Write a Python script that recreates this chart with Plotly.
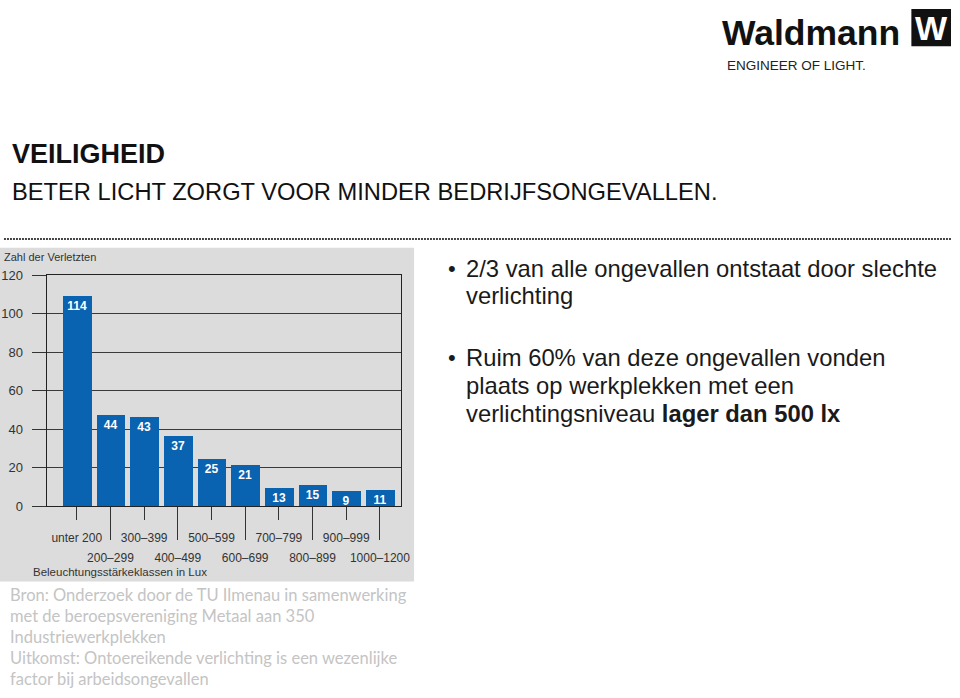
import plotly.graph_objects as go

# ---------------- data ----------------
categories = ["unter 200", "200–299", "300–399", "400–499", "500–599",
              "600–699", "700–799", "800–899", "900–999", "1000–1200"]
bar_heights = [109, 47.4, 46.4, 36.1, 24.6, 21.5, 9.5, 10.7, 7.6, 8.5]   # as drawn
bar_labels = ["114", "44", "43", "37", "25", "21", "13", "15", "9", "11"]  # as printed
y_ticks = [0, 20, 40, 60, 80, 100, 120]

title = "VEILIGHEID"
subtitle = "BETER LICHT ZORGT VOOR MINDER BEDRIJFSONGEVALLEN."
bullet_lines = [
    ["2/3 van alle ongevallen ontstaat door slechte", "verlichting"],
    ["Ruim 60% van deze ongevallen vonden", "plaats op werkplekken met een",
     "verlichtingsniveau <b>lager dan 500 lx</b>"],
]
source_lines = [
    "Bron: Onderzoek door de TU Ilmenau in samenwerking",
    "met de beroepsvereniging Metaal aan 350",
    "Industriewerkplekken",
    "Uitkomst: Ontoereikende verlichting is een wezenlijke",
    "factor bij arbeidsongevallen",
]

# ---------------- layout helpers ----------------
W, H = 960, 698
def px(x):
    return x / W
def py(y):
    return 1 - y / H

idx = list(range(len(categories)))
even = idx[0::2]
odd = idx[1::2]

BLUE = "#0a63b0"
DARK = "#2a2a2a"
FONT = "Arial, Liberation Sans, sans-serif"
LBL = 12

fig = go.Figure()
fig.add_trace(go.Bar(
    x=idx, y=bar_heights, text=bar_labels, width=0.85,
    marker=dict(color=BLUE, line=dict(width=0)),
    textposition="inside", insidetextanchor="end", textangle=0,
    textfont=dict(family=FONT, size=LBL, color="white", weight="bold"),
    hoverinfo="skip", showlegend=False,
))
fig.add_trace(go.Scatter(
    x=odd, y=[0] * len(odd), xaxis="x2", mode="markers",
    marker=dict(opacity=0), hoverinfo="skip", showlegend=False,
))

xr = [-0.897, 9.632]
common_x = dict(range=xr, showgrid=False, zeroline=False, ticks="outside",
                tickcolor="#333", tickwidth=1,
                tickfont=dict(family=FONT, size=12, color="#333"))
fig.update_layout(
    width=W, height=H,
    margin=dict(l=0, r=0, t=0, b=0),
    paper_bgcolor="white",
    plot_bgcolor="rgba(0,0,0,0)",
    bargap=0,
    uniformtext=dict(minsize=LBL, mode="show"),
    xaxis=dict(domain=[px(47), px(405)], anchor="y",
               tickvals=even, ticktext=[categories[i] for i in even],
               ticklen=13, ticklabelstandoff=7,
               showline=True, linecolor="#222", linewidth=1, mirror=True,
               **common_x),
    xaxis2=dict(domain=[px(47), px(405)], anchor="y", overlaying="x",
                side="bottom",
                tickvals=odd, ticktext=[categories[i] for i in odd],
                ticklen=33, ticklabelstandoff=7, showline=False,
                **common_x),
    yaxis=dict(domain=[py(510.3), py(274.3)], range=[0, 120],
               tickvals=y_ticks, ticks="outside", ticklen=14,
               tickcolor="#333", showline=True, linecolor="#222",
               linewidth=1, mirror=True,
               showgrid=True, gridcolor="#3a3a3a", gridwidth=1,
               zeroline=False, ticklabelstandoff=6,
               tickfont=dict(family=FONT, size=13, color="#333")),
)

shapes = [
    # grey chart panel
    dict(type="rect", xref="paper", yref="paper", x0=0, x1=px(418),
         y0=py(587), y1=py(246), fillcolor="#dcdcdc",
         line=dict(width=0), layer="below"),
    # dotted separator
    dict(type="line", xref="paper", yref="paper", x0=px(4), x1=1,
         y0=py(237), y1=py(237),
         line=dict(color="#444", width=2, dash="2px,1px")),
    # logo square
    dict(type="rect", xref="paper", yref="paper", x0=px(920), x1=px(960),
         y0=py(40), y1=py(2), fillcolor="#111", line=dict(width=0)),
]
fig.update_layout(shapes=shapes)

ann = []
def text(x, y, s, size, color=DARK, bold=False, family=FONT, xanchor="left"):
    ann.append(dict(x=px(x), y=py(y), xref="paper", yref="paper", text=s,
                    showarrow=False, xanchor=xanchor, yanchor="middle",
                    align="left",
                    font=dict(family=family, size=size, color=color,
                              weight="bold" if bold else "normal")))

# logo
text(727, 27, "Waldmann", 35.5, color="#111", bold=True)
text(940, 21, "W", 34, color="white", bold=True, xanchor="center")
text(732, 60, "ENGINEER OF LIGHT.", 13.5, color="#222")

# titles
text(10, 150, title, 27, color="#111", bold=True)
text(10, 189, subtitle, 23.7, color="#111")

# chart texts
text(2, 256, "Zahl der Verletzten", 11, color="#333")
text(31, 577, "Beleuchtungsstärkeklassen in Lux", 11.5, color="#333")

# bullets
bullet_y = [[267, 295], [358, 387, 415]]
for lines, ys in zip(bullet_lines, bullet_y):
    text(450, ys[0], "•", 22, color="#1a1a1a")
    for s, yy in zip(lines, ys):
        text(468, yy, s, 23.8, color="#1a1a1a")

# source
src_y = [601, 622, 644, 665, 687]
for s, yy in zip(source_lines, src_y):
    text(8, yy, s, 16.5, color="#c4c4c4", family="Lato, Open Sans, sans-serif")

fig.update_layout(annotations=ann)
fig.write_html("out.html")
